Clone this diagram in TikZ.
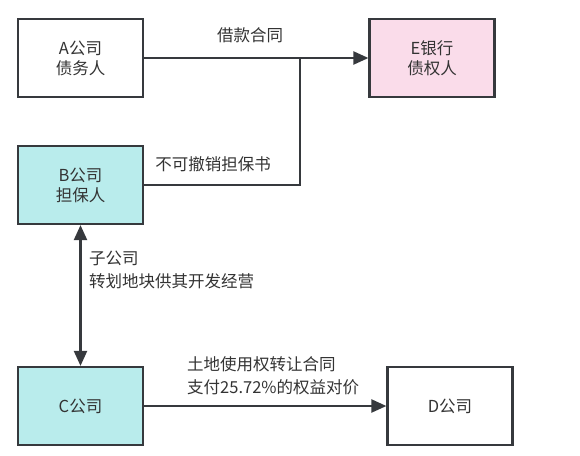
\documentclass[tikz,border=0pt]{standalone}
\usepackage{fontspec}
\setmainfont{Noto Sans CJK SC}
\usetikzlibrary{arrows.meta, positioning}
\definecolor{edge}{HTML}{36393D}
\definecolor{txt}{HTML}{333333}
\definecolor{pinkfill}{HTML}{FADCEA}
\definecolor{cyanfill}{HTML}{B9ECEC}
\tikzset{
  firm/.style={rectangle,draw=edge,line width=2.2pt,fill=white,minimum width=125pt,minimum height=78pt,align=center,text=txt,font=\fontsize{16.5}{20}\selectfont},
  bank/.style={firm,fill=pinkfill},
  sub/.style={firm,fill=cyanfill},
  arr/.style={-{Triangle[length=15pt,width=13pt]},line width=2.2pt,draw=edge},
  darr/.style={{Triangle[length=15pt,width=13pt]}-{Triangle[length=15pt,width=13pt]},line width=2.2pt,draw=edge},
  note/.style={text=txt,font=\fontsize{16.5}{23}\selectfont,align=left,inner sep=0pt}
}
\begin{document}
\begin{tikzpicture}[x=1pt,y=-1pt]
  \useasboundingbox (0,0) rectangle (580,455);

  \node[firm] (a) at (80.5,58) {A公司\\债务人};
  \node[bank] (e) at (432,58)  {E银行\\债权人};
  \node[sub]  (b) at (80.5,185) {B公司\\担保人};
  \node[sub]  (c) at (80.5,406) {C公司};
  \node[firm] (d) at (450,406) {D公司};
  \coordinate (join) at (300,58);

  \draw[arr] (a) -- (e);
  \draw[line width=2.2pt,draw=edge] (b.east) -| (join);
  \draw[darr] (b) -- (c);
  \draw[arr] (c) -- (d);

  \node[note] (loan)  at (250,35)  {借款合同};
  \node[note] (guar)  at (213,164) {不可撤销担保书};
  \node[note,anchor=west] (subsid) at (89,270) {子公司\\转划地块供其开发经营};
  \node[note,anchor=west] (deal)   at (187,376) {土地使用权转让合同\\支付25.72\%的权益对价};
\end{tikzpicture}
\end{document}
